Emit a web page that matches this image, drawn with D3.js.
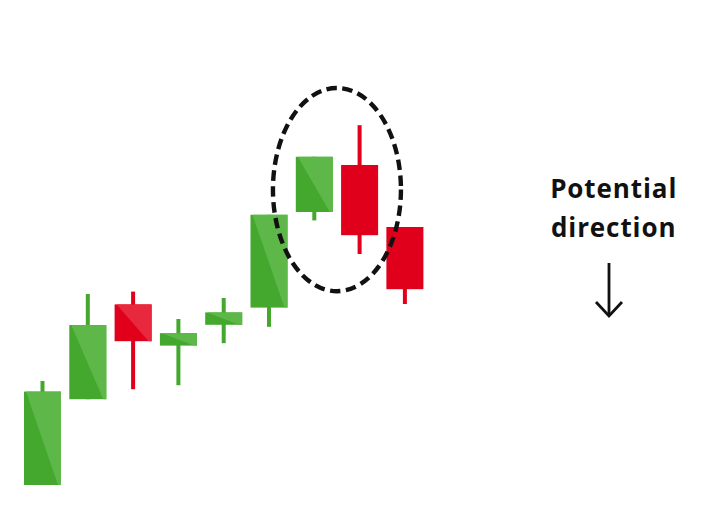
<!DOCTYPE html>
<html>
<head>
<meta charset="utf-8">
<script src="https://cdn.jsdelivr.net/npm/d3@7"></script>
<style>
html,body{margin:0;padding:0;background:#fff;}
svg{display:block;}
</style>
</head>
<body>
<svg id="chart" width="715" height="518"></svg>
<script>
// ---- data ----
const candles = ["c1","c2","c3","c4","c5","c6","c7","c8","c9"];
const openVals  = [3.75, 25.2, 48.9, 38.6, 43.8, 48.1, 72.0, 83.75, 68.25];
const closeVals = [27.1, 43.75, 39.7, 41.7, 46.9, 71.3, 85.8, 66.2, 52.7];
const highVals  = [29.75, 51.5, 52.1, 45.25, 50.5, 71.3, 85.8, 93.7, 68.25];
const lowVals   = [3.75, 25.2, 27.7, 28.7, 39.2, 43.3, 69.9, 61.5, 49.0];
const shadeVals = [true, true, true, true, true, true, true, false, false];
// annotation ellipse around candles 7-8: center price and radius (price units)
const highlight = {from: "c7", to: "c8", center: 77.6, radius: 25.4};
const labelLines = ["Potential", "direction"];

const svg = d3.select("#chart");
const x = d3.scaleBand().domain(candles).range([24, 423.4]).paddingInner(0.183).paddingOuter(0);
const y = d3.scaleLinear().domain([0, 100]).range([500, 100]);

const data = candles.map((c, i) => ({
  id: c, open: openVals[i], close: closeVals[i], high: highVals[i], low: lowVals[i], shade: shadeVals[i]
}));

const colors = {
  up:   {dark: "#44a82f", light: "#5db849"},
  down: {dark: "#e0001b", light: "#e8283d"}
};

const bw = x.bandwidth();
const wickW = 4;

const g = svg.append("g");
const cg = g.selectAll("g.candle").data(data).join("g").attr("class", "candle");

// wicks
cg.append("rect")
  .attr("x", d => x(d.id) + bw / 2 - wickW / 2)
  .attr("width", wickW)
  .attr("y", d => y(d.high))
  .attr("height", d => Math.max(0, y(d.low) - y(d.high)))
  .attr("fill", d => d.close >= d.open ? colors.up.dark : colors.down.dark);

// bodies
cg.append("rect")
  .attr("x", d => x(d.id))
  .attr("width", bw)
  .attr("y", d => y(Math.max(d.open, d.close)))
  .attr("height", d => Math.abs(y(d.open) - y(d.close)))
  .attr("fill", d => d.close >= d.open ? colors.up.dark : colors.down.dark);

// lighter upper-right triangle
cg.filter(d => d.shade).append("path")
  .attr("d", d => {
    const x0 = x(d.id), x1 = x0 + bw;
    const yt = y(Math.max(d.open, d.close)), yb = y(Math.min(d.open, d.close));
    return `M${x0 + 2},${yt} L${x1},${yt} L${x1},${yb} L${x1 - 3},${yb} Z`;
  })
  .attr("fill", d => d.close >= d.open ? colors.up.light : colors.down.light);

// dashed ellipse
const cxE = (x(highlight.from) + bw / 2 + x(highlight.to) + bw / 2) / 2;
svg.append("ellipse")
  .attr("cx", cxE)
  .attr("cy", y(highlight.center))
  .attr("rx", 64)
  .attr("ry", y(highlight.center - highlight.radius) - y(highlight.center))
  .attr("fill", "none")
  .attr("stroke", "#111")
  .attr("stroke-width", 4.4)
  .attr("stroke-dasharray", "10.5,5.5");

// label
const txt = svg.append("text")
  .attr("x", 613.7)
  .attr("y", 198.3)
  .attr("text-anchor", "middle")
  .attr("font-family", "'Open Sans', 'Noto Sans', sans-serif")
  .attr("font-weight", 700)
  .attr("font-size", 26)
  .attr("letter-spacing", 0.9)
  .attr("fill", "#111");
txt.selectAll("tspan").data(labelLines).join("tspan")
  .attr("x", 613.7)
  .attr("dy", (d, i) => i === 0 ? 0 : 39)
  .text(d => d);

// arrow
const ax = 609;
svg.append("line")
  .attr("x1", ax).attr("x2", ax)
  .attr("y1", 263).attr("y2", 316)
  .attr("stroke", "#111").attr("stroke-width", 2.8);
svg.append("path")
  .attr("d", `M${ax - 13},${302} L${ax},${316} L${ax + 13},${302}`)
  .attr("fill", "none")
  .attr("stroke", "#111").attr("stroke-width", 2.8)
  .attr("stroke-linejoin", "miter");
</script>
</body>
</html>
